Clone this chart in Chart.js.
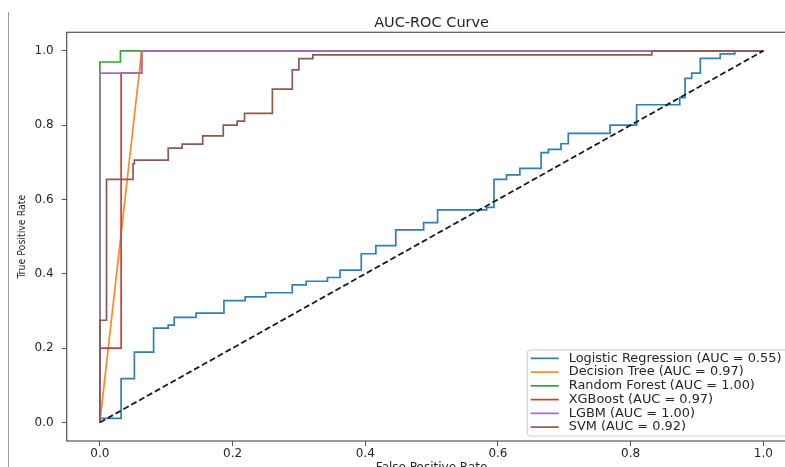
<!DOCTYPE html>
<html>
<head>
<meta charset="utf-8">
<script src="https://cdn.jsdelivr.net/npm/chart.js@4.4.1/dist/chart.umd.min.js"></script>
<style>
  html, body { margin: 0; padding: 0; background: #fff; overflow: hidden; }
  #wrap { position: absolute; left: 0; top: 0; width: 863px; height: 480px; }
  #edge { position: absolute; left: 8px; top: 12px; height: 460px; border-left: 1.5px solid #9c9c9c; }
</style>
</head>
<body>
<div id="wrap"><canvas id="rocChart" width="863" height="480"></canvas></div>
<div id="edge"></div>
<script>
// valores (fpr / tpr de cada modelo)
const modelNames = ['Logistic Regression', 'Decision Tree', 'Random Forest', 'XGBoost', 'LGBM', 'SVM'];
const aucValues = [0.55, 0.97, 1.00, 0.97, 1.00, 0.92];

const lrFpr = [0, 0, 0.032, 0.032, 0.052, 0.052, 0.081, 0.081, 0.103, 0.103, 0.112, 0.112, 0.145, 0.145,
  0.187, 0.187, 0.219, 0.219, 0.25, 0.25, 0.29, 0.29, 0.311, 0.311, 0.343, 0.343, 0.362, 0.362,
  0.394, 0.394, 0.416, 0.416, 0.446, 0.446, 0.488, 0.488, 0.509, 0.509, 0.583, 0.583, 0.594, 0.594,
  0.613, 0.613, 0.633, 0.633, 0.665, 0.665, 0.676, 0.676, 0.695, 0.695, 0.706, 0.706, 0.769, 0.769,
  0.809, 0.809, 0.874, 0.874, 0.882, 0.882, 0.892, 0.892, 0.905, 0.905, 0.935, 0.935, 0.957, 0.957, 1.0];
const lrTpr = [0, 0.011, 0.011, 0.118, 0.118, 0.189, 0.189, 0.254, 0.254, 0.262, 0.262, 0.283, 0.283, 0.294,
  0.294, 0.328, 0.328, 0.338, 0.338, 0.349, 0.349, 0.37, 0.37, 0.38, 0.38, 0.39, 0.39, 0.41,
  0.41, 0.454, 0.454, 0.476, 0.476, 0.518, 0.518, 0.538, 0.538, 0.572, 0.572, 0.579, 0.579, 0.654,
  0.654, 0.666, 0.666, 0.684, 0.684, 0.726, 0.726, 0.735, 0.735, 0.75, 0.75, 0.778, 0.778, 0.80,
  0.80, 0.855, 0.855, 0.874, 0.874, 0.926, 0.926, 0.94, 0.94, 0.98, 0.98, 0.992, 0.992, 1.0, 1.0];

const dtFpr = [0, 0.063, 1.0];
const dtTpr = [0, 1.0, 1.0];

const rfFpr = [0, 0, 0.031, 0.031, 1.0];
const rfTpr = [0, 0.97, 0.97, 1.0, 1.0];

const xgbFpr = [0, 0, 0.032, 0.032, 0.063, 0.063, 1.0];
const xgbTpr = [0, 0.2, 0.2, 0.94, 0.94, 1.0, 1.0];

const lgbmFpr = [0, 0, 0.063, 0.063, 1.0];
const lgbmTpr = [0, 0.94, 0.94, 1.0, 1.0];

const svmFpr = [0, 0, 0.01, 0.01, 0.05, 0.05, 0.052, 0.052, 0.103, 0.103, 0.124, 0.124, 0.155, 0.155,
  0.186, 0.186, 0.207, 0.207, 0.218, 0.218, 0.26, 0.26, 0.29, 0.29, 0.30, 0.30, 0.321, 0.321, 0.832, 0.832, 1.0];
const svmTpr = [0, 0.275, 0.275, 0.654, 0.654, 0.696, 0.696, 0.706, 0.706, 0.738, 0.738, 0.749, 0.749, 0.771,
  0.771, 0.80, 0.80, 0.811, 0.811, 0.832, 0.832, 0.897, 0.897, 0.949, 0.949, 0.979, 0.979, 0.989, 0.989, 1.0, 1.0];

const chanceFpr = [0, 1];
const chanceTpr = [0, 1];

const tickValues = [0, 0.2, 0.4, 0.6, 0.8, 1.0];

const lineColors = ['#2f7fb5', '#fa8a2a', '#36a23a', '#d43a3a', '#9a72c0', '#8c5a50'];
const fontFamily = '"DejaVu Sans", Verdana, sans-serif';
const textColor = '#262626';

const curves = [[lrFpr, lrTpr], [dtFpr, dtTpr], [rfFpr, rfTpr], [xgbFpr, xgbTpr], [lgbmFpr, lgbmTpr], [svmFpr, svmTpr]];

const datasets = curves.map(([fpr, tpr], i) => ({
  label: `${modelNames[i]} (AUC = ${aucValues[i].toFixed(2)})`,
  data: fpr.map((x, k) => ({ x: x, y: tpr[k] })),
  xAxisID: 'x',
  yAxisID: 'y',
  borderColor: lineColors[i],
  borderWidth: 1.7,
  pointRadius: 0,
  showLine: true,
  fill: false,
  inLegend: true,
  order: curves.length - i + 1   // como matplotlib: la ultima curva queda encima
}));
datasets.push({
  label: 'chance',
  data: chanceFpr.map((x, k) => ({ x: x, y: chanceTpr[k] })),
  xAxisID: 'x',
  yAxisID: 'y',
  borderColor: '#1a1a1a',
  borderWidth: 1.8,
  borderDash: [6, 3],
  pointRadius: 0,
  showLine: true,
  fill: false,
  inLegend: false,
  order: 0
});

// marco completo del area de ejes
const axesFrame = {
  id: 'axesFrame',
  afterDatasetsDraw(chart) {
    const { ctx, chartArea: a } = chart;
    ctx.save();
    ctx.strokeStyle = '#555';
    ctx.lineWidth = 1.2;
    ctx.strokeRect(a.left, a.top, a.right - a.left, a.bottom - a.top);
    ctx.restore();
  }
};

// leyenda abajo a la derecha dentro de los ejes
const rocLegend = {
  id: 'rocLegend',
  afterDraw(chart) {
    const { ctx, chartArea } = chart;
    const items = chart.data.datasets.filter(d => d.inLegend);
    ctx.save();
    ctx.font = '12.9px ' + fontFamily;
    const textW = Math.max(...items.map(d => ctx.measureText(d.label).width));
    const rowH = 13.75;
    const boxW = 3.5 + 28 + 10 + textW + 8;
    const boxH = rowH * (items.length - 1) + 17.3;
    const right = chartArea.right - 7;
    const bottom = chartArea.bottom - 5;
    const left = right - boxW;
    const top = bottom - boxH;
    ctx.beginPath();
    ctx.roundRect(left, top, boxW, boxH, 3);
    ctx.fillStyle = 'rgba(255,255,255,0.85)';
    ctx.fill();
    ctx.strokeStyle = '#cccccc';
    ctx.lineWidth = 1;
    ctx.stroke();
    items.forEach((d, i) => {
      const y = top + 8.4 + i * rowH;
      ctx.beginPath();
      ctx.moveTo(left + 3.5, y);
      ctx.lineTo(left + 31.5, y);
      ctx.strokeStyle = d.borderColor;
      ctx.lineWidth = 1.7;
      ctx.stroke();
      ctx.fillStyle = textColor;
      ctx.textBaseline = 'middle';
      ctx.textAlign = 'left';
      ctx.fillText(d.label, left + 41.5, y);
    });
    ctx.restore();
  }
};

const tickFont = { family: fontFamily, size: 12 };

const rocChart = new Chart(document.getElementById('rocChart').getContext('2d'), {
  type: 'scatter',
  data: { datasets: datasets },
  plugins: [axesFrame, rocLegend],
  options: {
    responsive: false,
    animation: false,
    layout: { padding: { left: 0, right: 66.5, top: 0, bottom: 0 } },
    elements: { line: { tension: 0 } },
    plugins: {
      legend: { display: false },
      tooltip: { enabled: false }
    },
    scales: {
      x: {
        type: 'linear',
        min: -0.05,
        max: 1.05,
        afterBuildTicks: s => { s.ticks = tickValues.map(v => ({ value: v })); },
        afterFit: s => { s.height = 39; },
        ticks: { callback: v => v.toFixed(1), font: tickFont, color: textColor, padding: 1, maxRotation: 0, autoSkip: false },
        grid: { drawOnChartArea: false, tickLength: 5, color: '#555' },
        border: { display: false },
        title: { display: true, text: 'False Positive Rate', color: textColor, font: { family: fontFamily, size: 12 }, padding: { top: 0, bottom: 5 } }
      },
      y: {
        type: 'linear',
        min: -0.05,
        max: 1.05,
        afterBuildTicks: s => { s.ticks = tickValues.map(v => ({ value: v })); },
        afterFit: s => { s.width = 66.7; },
        ticks: { callback: v => v.toFixed(1), font: tickFont, color: textColor, padding: 8, autoSkip: false },
        grid: { drawOnChartArea: false, tickLength: 5, color: '#555' },
        border: { display: false },
        title: { display: true, text: 'True Positive Rate', color: textColor, font: { family: '"DejaVu Sans Condensed", ' + fontFamily, size: 10.5 }, padding: { top: 16, bottom: 0 } }
      },
      // eje superior vacio: solo lleva el titulo centrado sobre el area de ejes
      xTop: {
        type: 'linear',
        position: 'top',
        min: 0,
        max: 1,
        afterFit: s => { s.height = 32.3; },
        ticks: { display: false },
        grid: { display: false },
        border: { display: false },
        title: {
          display: true,
          text: 'AUC-ROC Curve',
          color: textColor,
          font: { family: fontFamily, size: 14.5 },
          padding: { top: 14.6, bottom: 0 }
        }
      }
    }
  }
});
</script>
</body>
</html>
